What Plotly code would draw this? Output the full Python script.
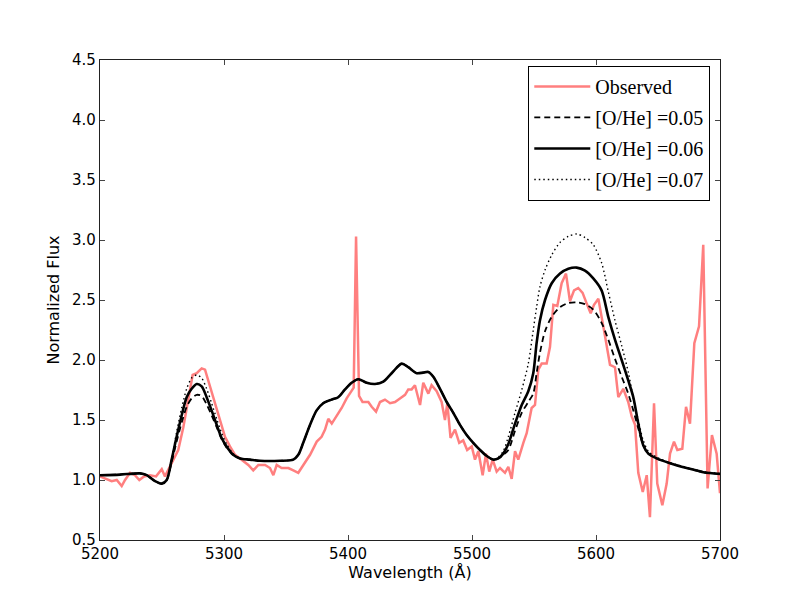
import plotly.graph_objects as go

# Observed spectrum
obs_wave = [5200.0, 5205.4, 5209.4, 5213.5, 5217.5, 5220.2, 5224.2, 5228.2, 5231.7, 5235.5,
            5240.3, 5245.2, 5249.8, 5252.4, 5257.8, 5263.1, 5267.2, 5271.2, 5274.7, 5278.0,
            5282.0, 5284.7, 5288.7, 5292.7, 5296.8, 5300.8, 5304.8, 5308.9, 5312.9, 5319.6,
            5323.6, 5327.7, 5333.1, 5337.1, 5339.8, 5342.5, 5346.5, 5351.9, 5355.9, 5359.9,
            5364.0, 5369.4, 5374.8, 5378.7, 5381.5, 5384.1, 5386.9, 5390.9, 5394.9, 5398.9,
            5403.0, 5404.6, 5406.5, 5408.9, 5411.7, 5416.4, 5419.1, 5422.6, 5425.8, 5429.8,
            5433.9, 5437.9, 5441.9, 5446.0, 5448.6, 5451.3, 5454.0, 5458.1, 5460.7, 5464.8,
            5467.4, 5471.5, 5475.5, 5478.2, 5480.1, 5482.7, 5486.3, 5489.7, 5492.9, 5496.1,
            5499.8, 5502.4, 5505.1, 5508.6, 5511.3, 5513.9, 5516.7, 5519.9, 5522.6, 5526.6,
            5529.3, 5532.0, 5534.7, 5537.3, 5541.4, 5544.1, 5548.1, 5550.8, 5553.5, 5556.2,
            5560.2, 5562.9, 5565.6, 5568.8, 5572.3, 5575.8, 5579.0, 5582.3, 5585.7, 5589.2,
            5592.5, 5595.7, 5598.4, 5601.9, 5605.9, 5611.3, 5615.3, 5618.0, 5622.0, 5626.0,
            5628.8, 5631.5, 5634.1, 5637.7, 5640.9, 5643.5, 5646.8, 5649.4, 5653.5, 5657.0,
            5659.7, 5662.9, 5665.6, 5669.6, 5672.6, 5675.8, 5679.3, 5683.1, 5686.5, 5690.0,
            5693.5, 5697.3, 5700.0]
obs_flux = [1.03, 1.01, 0.99, 1.00, 0.95, 1.00, 1.06, 1.04, 1.00, 1.03,
            1.04, 1.03, 1.09, 1.03, 1.14, 1.25, 1.44, 1.67, 1.875, 1.89,
            1.93, 1.92, 1.78, 1.64, 1.50, 1.36, 1.28, 1.21, 1.18, 1.125,
            1.08, 1.125, 1.125, 1.10, 1.04, 1.125, 1.10, 1.10, 1.08, 1.06,
            1.125, 1.21, 1.32, 1.36, 1.42, 1.51, 1.47, 1.53, 1.60, 1.68,
            1.74, 1.77, 3.03, 1.70, 1.65, 1.65, 1.61, 1.57, 1.65, 1.67,
            1.64, 1.65, 1.68, 1.71, 1.755, 1.755, 1.79, 1.625, 1.81, 1.72,
            1.79, 1.74, 1.65, 1.50, 1.64, 1.35, 1.42, 1.31, 1.33, 1.25,
            1.28, 1.17, 1.24, 1.04, 1.22, 1.07, 1.17, 1.07, 1.10, 1.06,
            1.11, 1.01, 1.24, 1.17, 1.31, 1.39, 1.60, 1.625, 1.92, 1.97,
            1.97, 2.11, 2.46, 2.45, 2.64, 2.72, 2.49, 2.58, 2.60, 2.56,
            2.47, 2.39, 2.46, 2.51, 2.28, 1.96, 1.94, 1.69, 1.76, 1.65,
            1.53, 1.46, 1.06, 0.90, 1.04, 0.69, 1.64, 0.97, 0.79, 0.97,
            1.22, 1.32, 1.25, 1.26, 1.61, 1.47, 2.14, 2.28, 2.96, 0.93,
            1.375, 1.22, 0.89]

# Model spectra (common wavelength grid)
mod_wave = [5200.0, 5216.1, 5232.3, 5237.7, 5244.4, 5249.8, 5253.8, 5257.8, 5261.8, 5265.9,
            5269.9, 5273.9, 5278.0, 5282.0, 5286.0, 5290.0, 5294.1, 5298.1, 5302.1, 5307.4,
            5312.9, 5321.0, 5329.0, 5345.2, 5355.9, 5359.9, 5363.9, 5369.4, 5374.7, 5380.0,
            5386.8, 5392.1, 5397.6, 5402.9, 5408.3, 5415.1, 5421.8, 5428.5, 5435.2, 5443.3,
            5448.6, 5455.4, 5460.6, 5464.8, 5468.8, 5474.2, 5479.6, 5484.9, 5490.3, 5495.7,
            5501.0, 5506.5, 5511.9, 5517.2, 5521.2, 5525.2, 5529.3, 5534.7, 5540.1, 5545.4,
            5549.4, 5552.1, 5554.8, 5558.9, 5564.3, 5571.0, 5577.7, 5584.4, 5591.1, 5597.8,
            5604.5, 5609.9, 5615.3, 5620.7, 5626.0, 5630.1, 5634.1, 5638.1, 5642.2, 5648.9,
            5659.7, 5673.1, 5686.5, 5700.0]
flux_005 = [1.04, 1.045, 1.055, 1.04, 0.99, 0.97, 1.00, 1.15, 1.32, 1.48,
            1.61, 1.68, 1.71, 1.70, 1.63, 1.54, 1.44, 1.34, 1.27, 1.21,
            1.18, 1.17, 1.16, 1.16, 1.17, 1.21, 1.31, 1.46, 1.58, 1.64,
            1.67, 1.69, 1.755, 1.81, 1.84, 1.81, 1.80, 1.82, 1.89, 1.97,
            1.94, 1.89, 1.895, 1.90, 1.86, 1.76, 1.65, 1.56, 1.46, 1.375,
            1.31, 1.25, 1.20, 1.17, 1.18, 1.21, 1.25, 1.41, 1.56, 1.65,
            1.72, 1.89, 2.06, 2.24, 2.36, 2.44, 2.475, 2.48, 2.465, 2.42,
            2.31, 2.17, 2.01, 1.86, 1.72, 1.58, 1.43, 1.29, 1.22, 1.18,
            1.14, 1.10, 1.065, 1.05]
flux_006 = [1.04, 1.045, 1.055, 1.04, 0.99, 0.97, 1.00, 1.17, 1.36, 1.54,
            1.69, 1.76, 1.80, 1.78, 1.69, 1.58, 1.46, 1.35, 1.28, 1.21,
            1.18, 1.17, 1.16, 1.16, 1.17, 1.21, 1.31, 1.46, 1.58, 1.64,
            1.67, 1.69, 1.755, 1.81, 1.84, 1.81, 1.80, 1.82, 1.89, 1.97,
            1.94, 1.89, 1.895, 1.90, 1.86, 1.76, 1.65, 1.56, 1.46, 1.375,
            1.31, 1.25, 1.20, 1.17, 1.18, 1.22, 1.30, 1.47, 1.625, 1.74,
            1.89, 2.14, 2.33, 2.50, 2.64, 2.72, 2.76, 2.77, 2.745, 2.68,
            2.58, 2.36, 2.17, 2.00, 1.83, 1.69, 1.47, 1.29, 1.22, 1.18,
            1.14, 1.10, 1.065, 1.05]
flux_007 = [1.04, 1.045, 1.055, 1.04, 0.99, 0.97, 1.00, 1.18, 1.40, 1.60,
            1.76, 1.85, 1.875, 1.85, 1.76, 1.64, 1.51, 1.39, 1.30, 1.22,
            1.18, 1.17, 1.16, 1.16, 1.17, 1.21, 1.31, 1.46, 1.58, 1.64,
            1.67, 1.69, 1.755, 1.81, 1.84, 1.81, 1.80, 1.82, 1.89, 1.97,
            1.94, 1.89, 1.895, 1.90, 1.86, 1.76, 1.65, 1.56, 1.46, 1.375,
            1.31, 1.25, 1.20, 1.17, 1.19, 1.24, 1.36, 1.56, 1.75, 1.97,
            2.25, 2.44, 2.61, 2.75, 2.875, 2.98, 3.03, 3.05, 3.02, 2.96,
            2.81, 2.57, 2.33, 2.12, 1.90, 1.68, 1.50, 1.33, 1.24, 1.19,
            1.145, 1.105, 1.07, 1.055]

x_ticks = [5200, 5300, 5400, 5500, 5600, 5700]
y_ticks = [0.5, 1.0, 1.5, 2.0, 2.5, 3.0, 3.5, 4.0, 4.5]

fig = go.Figure()
fig.add_trace(go.Scatter(x=obs_wave, y=obs_flux, mode="lines", name="Observed",
                         line=dict(color="#ff7f7f", width=2.5), legendgroup="a"))
fig.add_trace(go.Scatter(x=mod_wave, y=flux_005, mode="lines", name="[O/He] =0.05",
                         line=dict(color="black", width=1.8, dash="6px,4px", shape="spline", smoothing=0.8),
                         legendgroup="b"))
fig.add_trace(go.Scatter(x=mod_wave, y=flux_006, mode="lines", name="[O/He] =0.06",
                         line=dict(color="black", width=2.6, shape="spline", smoothing=0.8),
                         legendgroup="c"))
fig.add_trace(go.Scatter(x=mod_wave, y=flux_007, mode="lines", name="[O/He] =0.07",
                         line=dict(color="black", width=1.4, dash="1.5px,3px", shape="spline", smoothing=0.8),
                         legendgroup="d"))

axis_common = dict(showline=True, linecolor="#222222", linewidth=1.2, mirror="allticks",
                   ticks="inside", ticklen=5, tickcolor="#444444", showgrid=False, zeroline=False,
                   tickfont=dict(family="DejaVu Sans", size=15, color="black"))

fig.update_layout(
    width=800, height=600,
    margin=dict(l=92, r=88, t=52, b=68),
    paper_bgcolor="white", plot_bgcolor="white",
    xaxis=dict(range=[5200, 5700], tickvals=x_ticks, ticktext=[str(v) for v in x_ticks],
               title=dict(text="Wavelength (Å)", font=dict(family="DejaVu Sans", size=16, color="black"), standoff=4),
               **axis_common),
    yaxis=dict(range=[0.5, 4.5], tickvals=y_ticks, ticktext=[f"{v:.1f}" for v in y_ticks],
               title=dict(text="Normalized Flux", font=dict(family="DejaVu Sans", size=16, color="black"), standoff=8),
               **axis_common),
    legend=dict(x=0.984, y=0.988, xanchor="right", yanchor="top",
                bordercolor="black", borderwidth=1.2, bgcolor="white",
                font=dict(family="Liberation Serif", size=20, color="black"),
                tracegroupgap=2, itemwidth=56),
    showlegend=True,
)

fig.write_html("out.html", config={"displayModeBar": False})
